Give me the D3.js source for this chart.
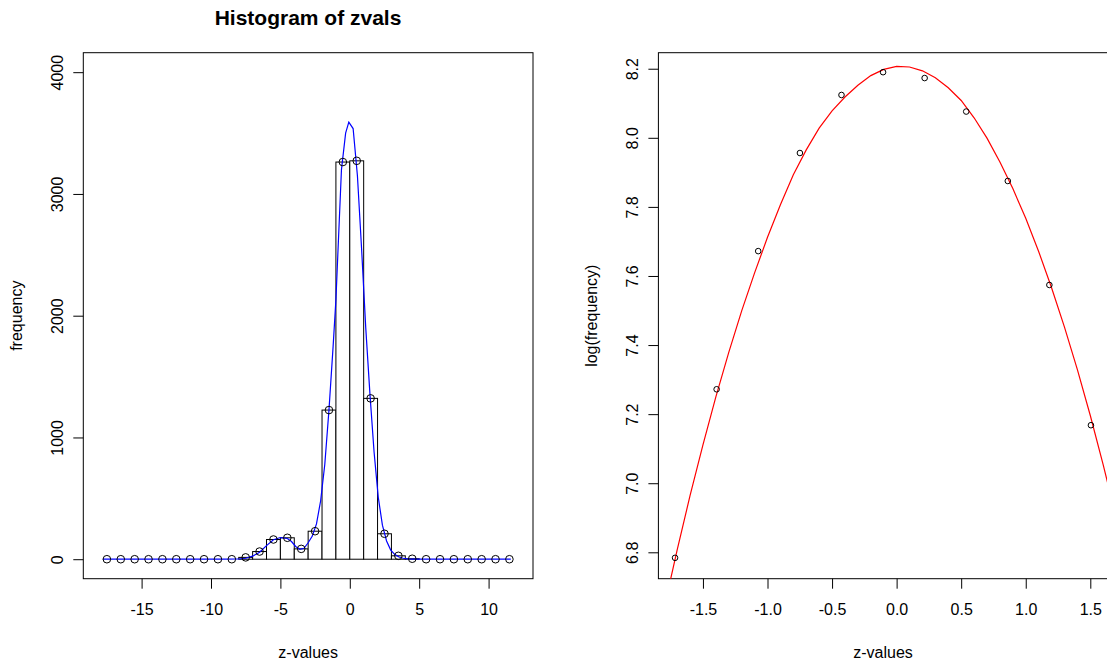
<!DOCTYPE html>
<html>
<head>
<meta charset="utf-8">
<title>Histogram of zvals</title>
<script src="https://cdn.jsdelivr.net/npm/d3@7"></script>
<style>
  body { margin: 0; background: #fff; }
  svg { display: block; font-family: "Liberation Sans", Arial, sans-serif; }
</style>
</head>
<body>
<svg width="1107" height="667"></svg>
<script>
// left panel: histogram of zvals (bin width 1)
var binMids = [-17.5,-16.5,-15.5,-14.5,-13.5,-12.5,-11.5,-10.5,-9.5,-8.5,
               -7.5,-6.5,-5.5,-4.5,-3.5,-2.5,-1.5,-0.5,0.5,1.5,
               2.5,3.5,4.5,5.5,6.5,7.5,8.5,9.5,10.5,11.5];
var counts = [0,0,0,0,0,0,0,0,0,0,
              15,63,162,176,85,230,1225,3262,3272,1321,
              209,28,4,0,0,0,0,0,0,0];
// fitted density (blue line)
var fitX = [-17.8,-9,-8,-7.5,-7,-6.5,-6,-5.5,-5,-4.5,-4.2,-3.9,-3.6,-3.3,-3.0,-2.7,-2.4,-2.1,-1.8,-1.5,
            -1.2,-1.0,-0.9,-0.6,-0.3,-0.07,0.24,0.55,0.85,1.15,1.45,1.75,2.05,2.35,2.65,2.95,3.25,3.55,3.85,4.15,4.5,5,11.6];
var fitY = [0,0,2,8,25,58,112,160,178,170,145,105,82,90,135,190,290,480,780,1225,
            1750,2130,2400,3200,3500,3590,3537,3150,2550,1900,1360,880,510,280,150,75,38,18,8,3,1,0,0];
var xTicksL = [-15,-10,-5,0,5,10];
var yTicksL = [0,1000,2000,3000,4000];

// right panel: log(frequency) near the centre
var zMid = [-1.716,-1.394,-1.072,-0.749,-0.427,-0.105,0.217,0.539,0.861,1.183,1.505];
var logFreq = [6.784,7.272,7.672,7.956,8.124,8.190,8.173,8.076,7.875,7.574,7.168];
// red fitted curve
var curveX = [-1.8,-1.7,-1.6,-1.5,-1.4,-1.3,-1.2,-1.1,-1.0,-0.9,-0.8,-0.7,-0.6,-0.5,-0.4,-0.3,-0.2,-0.1,0.0,
              0.1,0.2,0.3,0.4,0.5,0.6,0.7,0.8,0.9,1.0,1.1,1.2,1.3,1.4,1.5,1.6,1.7];
var curveY = [6.640,6.806,6.964,7.111,7.250,7.379,7.499,7.609,7.712,7.806,7.893,7.965,8.028,8.078,8.118,8.152,8.180,8.198,8.207,
              8.205,8.194,8.174,8.145,8.108,8.058,7.999,7.930,7.853,7.767,7.671,7.566,7.452,7.329,7.196,7.053,6.902];
var xTicksR = [-1.5,-1.0,-0.5,0.0,0.5,1.0,1.5];
var yTicksR = [6.8,7.0,7.2,7.4,7.6,7.8,8.0,8.2];

var svg = d3.select("svg");
var top0 = 52.7, bot0 = 578.7;

// R prints a plain hyphen for minus
function fmt(spec) {
  var f = d3.format(spec);
  return d => f(d).replace("\u2212", "-");
}

function frame(x0, x1, id) {
  svg.append("clipPath").attr("id", id)
    .append("rect").attr("x", x0).attr("y", top0).attr("width", x1 - x0).attr("height", bot0 - top0);
  svg.append("rect")
    .attr("x", x0).attr("y", top0).attr("width", x1 - x0).attr("height", bot0 - top0)
    .style("fill", "none").style("stroke", "#000").style("stroke-width", 1);
}

function axes(x, y, xt, yt, fmtX, fmtY, xlab, ylab, x0) {
  var gx = svg.append("g").attr("transform", "translate(0," + bot0 + ")")
    .call(d3.axisBottom(x).tickValues(xt).tickFormat(fmtX).tickSize(10).tickSizeOuter(0));
  gx.select(".domain").remove();
  gx.selectAll("text").attr("y", 36).attr("dy", 0)
    .style("font-size", "16px").style("fill", "#000");

  var gy = svg.append("g").attr("transform", "translate(" + x0 + ",0)")
    .call(d3.axisLeft(y).tickValues(yt).tickFormat(fmtY).tickSize(10).tickSizeOuter(0));
  gy.select(".domain").remove();
  gy.selectAll("text").attr("x", 0).attr("dy", 0)
    .attr("transform", "translate(-20,0) rotate(-90)")
    .style("text-anchor", "middle").style("font-size", "16px").style("fill", "#000");
  svg.selectAll(".tick line").style("stroke", "#000");

  var cx = (x.range()[0] + x.range()[1]) / 2;
  svg.append("text").attr("x", cx).attr("y", 658)
    .attr("text-anchor", "middle").style("font-size", "16px").text(xlab);
  svg.append("text")
    .attr("transform", "translate(" + (x0 - 61) + "," + ((top0 + bot0) / 2) + ") rotate(-90)")
    .attr("text-anchor", "middle").style("font-size", "16px").text(ylab);
}

// ---------- left panel ----------
var xL = d3.scaleLinear().domain([-19.2, 13.2]).range([83.3, 533]);
var yL = d3.scaleLinear().domain([-160, 4160]).range([bot0, top0]);

frame(83.3, 533, "clipL");

svg.append("g").selectAll("rect")
  .data(binMids)
  .join("rect")
  .attr("x", d => xL(d - 0.5))
  .attr("width", d => xL(d + 0.5) - xL(d - 0.5))
  .attr("y", (d, i) => yL(counts[i]))
  .attr("height", (d, i) => yL(0) - yL(counts[i]))
  .style("fill", "#fff").style("stroke", "#000").style("stroke-width", 1);

var lineL = d3.line().x(d => xL(d[0])).y(d => yL(d[1]));
svg.append("path")
  .datum(fitX.map((d, i) => [d, fitY[i]]))
  .attr("clip-path", "url(#clipL)")
  .attr("d", lineL)
  .style("fill", "none").style("stroke", "#0000ff").style("stroke-width", 1.2);

svg.append("g").selectAll("circle")
  .data(binMids)
  .join("circle")
  .attr("cx", d => xL(d))
  .attr("cy", (d, i) => yL(counts[i]))
  .attr("r", 3.8)
  .style("fill", "none").style("stroke", "#000").style("stroke-width", 1);

axes(xL, yL, xTicksL, yTicksL, fmt("d"), fmt("d"), "z-values", "frequency", 83.3);

svg.append("text").attr("x", 308).attr("y", 25)
  .attr("text-anchor", "middle")
  .style("font-size", "21px").style("font-weight", "bold")
  .text("Histogram of zvals");

// ---------- right panel ----------
var xR = d3.scaleLinear().domain([-1.845, 1.634]).range([658.4, 1107.6]);
var yR = d3.scaleLinear().domain([6.7236, 8.2464]).range([bot0, top0]);

frame(658.4, 1107.6, "clipR");

var lineR = d3.line().x(d => xR(d[0])).y(d => yR(d[1]));
svg.append("path")
  .datum(curveX.map((d, i) => [d, curveY[i]]))
  .attr("clip-path", "url(#clipR)")
  .attr("d", lineR)
  .style("fill", "none").style("stroke", "#ff0000").style("stroke-width", 1.2);

svg.append("g").selectAll("circle")
  .data(zMid)
  .join("circle")
  .attr("cx", d => xR(d))
  .attr("cy", (d, i) => yR(logFreq[i]))
  .attr("r", 2.8)
  .style("fill", "none").style("stroke", "#000").style("stroke-width", 1);

axes(xR, yR, xTicksR, yTicksR, fmt(".1f"), fmt(".1f"), "z-values", "log(frequency)", 658.4);
</script>
</body>
</html>
